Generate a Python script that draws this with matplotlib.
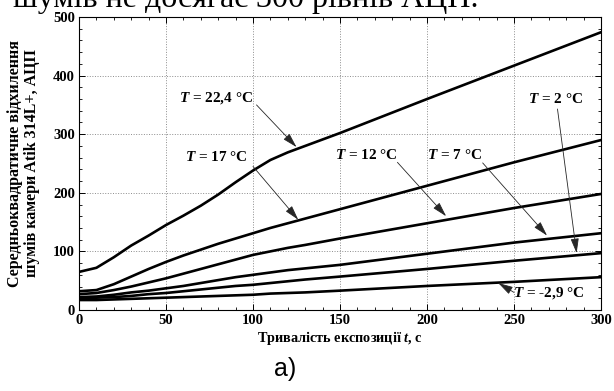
import matplotlib
matplotlib.use('Agg')
import matplotlib.pyplot as plt
from matplotlib.ticker import MultipleLocator

plt.rcParams['font.family'] = ['Liberation Serif', 'DejaVu Serif']
plt.rcParams['mathtext.fontset'] = 'custom'
plt.rcParams['mathtext.it'] = 'Liberation Serif:italic:bold'
plt.rcParams['mathtext.rm'] = 'Liberation Serif:bold'

# exposure time, s
t = [0, 10, 20, 30, 40, 50, 60, 70, 80, 90, 100, 110, 120, 130, 150, 200, 250, 300]

# RMS noise, ADU, per sensor temperature
noise_224 = [65, 72, 90, 110, 127, 145, 161, 178, 197, 218, 238, 256, 269, 280, 302, 360, 417, 474]
noise_17 = [32, 34, 44, 57, 70, 82, 93, 103, 113, 122, 131, 140, 148, 156, 172, 212, 252, 290]
noise_12 = [27, 29, 34, 40, 47, 54, 62, 70, 78, 86, 94, 100, 106, 111, 122, 148, 174, 198]
noise_7 = [22, 23, 26, 30, 33, 37, 41, 46, 51, 56, 60, 64, 68, 71, 77, 96, 115, 131]
noise_2 = [20, 21, 22, 24, 27, 29, 32, 35, 38, 41, 43, 46, 49, 52, 57, 70, 84, 97]
noise_m29 = [17, 17, 18, 19, 20, 21, 22, 23, 24, 25, 26, 28, 29, 30, 33, 41, 48, 56]

series = [noise_224, noise_17, noise_12, noise_7, noise_2, noise_m29]

labels = ['$T$ = 22,4 °C', '$T$ = 17 °C', '$T$ = 12 °C', '$T$ = 7 °C', '$T$ = 2 °C', '$T$ = -2,9 °C']
label_xy = [(79, 362), (79, 261), (165, 264), (216, 264), (274, 360), (270, 29)]
arrow_to = [(125, 278), (126, 154), (211, 160), (269, 127), (286, 97), (241, 46)]
arrow_from = [(102, 350), (100, 245), (183, 252), (232, 251), (275, 343), (250, 30)]

fig = plt.figure(figsize=(6.14, 3.91), dpi=100)
ax = fig.add_axes([0.1287, 0.2072, 0.8501, 0.7493])

for s in series:
    ax.plot(t, s, color='black', lw=1.9, solid_capstyle='round', solid_joinstyle='round')

for lab, xy, a_to, a_from in zip(labels, label_xy, arrow_to, arrow_from):
    ax.text(xy[0], xy[1], lab, ha='center', va='center', fontsize=11, fontweight='bold')
    ax.annotate('', xy=a_to, xytext=a_from,
                arrowprops=dict(arrowstyle='-|>,head_length=0.9,head_width=0.25',
                                color='0.15', lw=0.6, shrinkA=0, shrinkB=0))

ax.set_xlim(0, 300)
ax.set_ylim(0, 500)
ax.xaxis.set_major_locator(MultipleLocator(50))
ax.xaxis.set_minor_locator(MultipleLocator(10))
ax.yaxis.set_major_locator(MultipleLocator(100))
ax.yaxis.set_minor_locator(MultipleLocator(20))
ax.tick_params(which='both', direction='in', top=True, right=True, labelsize=10.5, pad=3)
ax.tick_params(which='major', length=4, width=0.7)
ax.tick_params(which='minor', length=2.5, width=0.6)
for lbl in ax.get_xticklabels() + ax.get_yticklabels():
    lbl.set_fontweight('bold')
ax.grid(True, which='major', linestyle=':', color='0.55', lw=0.7)
for sp in ax.spines.values():
    sp.set_linewidth(0.8)

ax.set_xlabel('Тривалість експозиції $t$, с', fontsize=10.3, fontweight='bold', labelpad=1)
ax.set_ylabel('Середньоквадратичне відхилення\nшумів камери Atik 314L+, АЦП',
              fontsize=11.5, fontweight='bold', labelpad=9, linespacing=1.1)

fig.text(0.40, 0.982, 'шумів не досягає 300 рівнів АЦП.', ha='center', va='baseline',
         fontsize=23)
fig.text(0.465, 0.055, 'а)', ha='center', va='center', fontsize=18,
         family=['Liberation Sans', 'DejaVu Sans'])

fig.savefig('out.png', dpi=100)
